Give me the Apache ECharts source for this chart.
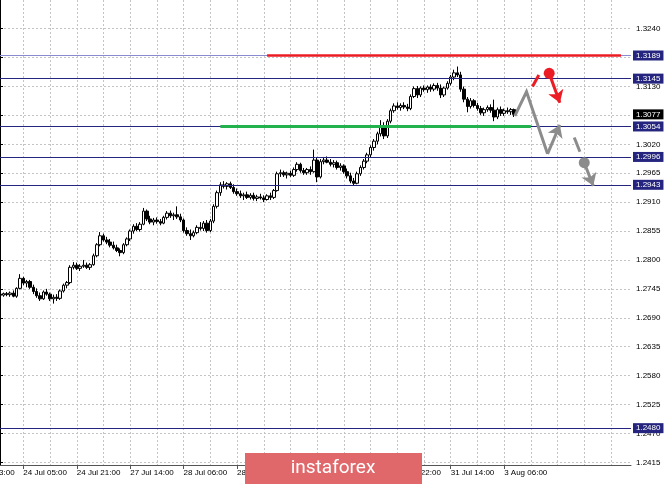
<!DOCTYPE html>
<html><head><meta charset="utf-8">
<script src="https://cdn.jsdelivr.net/npm/echarts@6/dist/echarts.min.js"></script>
<style>html,body{margin:0;padding:0;background:#fff}#c{width:665px;height:484px}</style>
</head><body><div id="c"></div>
<script>
// ---- data (hourly candles) ----
const opens = [
1.2735,1.2733,1.2736,1.2734,1.2737,1.2731,1.2746,1.2765,1.2756,1.2759,
1.2748,1.2740,1.2732,1.2726,1.2739,1.2735,1.2726,1.2729,1.2727,1.2741,
1.2752,1.2757,1.2786,1.2790,1.2784,1.2788,1.2790,1.2786,1.2791,1.2808,
1.2829,1.2846,1.2838,1.2834,1.2828,1.2823,1.2818,1.2814,1.2829,1.2840,
1.2855,1.2864,1.2858,1.2868,1.2893,1.2878,1.2872,1.2876,1.2873,1.2870,
1.2881,1.2889,1.2884,1.2886,1.2882,1.2876,1.2856,1.2850,1.2846,1.2852,
1.2862,1.2860,1.2870,1.2856,1.2874,1.2902,1.2928,1.2943,1.2940,1.2945,
1.2938,1.2930,1.2926,1.2922,1.2924,1.2919,1.2923,1.2917,1.2920,1.2918,
1.2915,1.2922,1.2919,1.2932,1.2964,1.2966,1.2962,1.2965,1.2961,1.2972,
1.2982,1.2970,1.2966,1.2972,1.2968,1.2990,1.2958,1.2987,1.2990,1.2986,
1.2982,1.2985,1.2976,1.2979,1.2968,1.2960,1.2950,1.2946,1.2964,1.2976,
1.2988,1.3000,1.3014,1.3026,1.3040,1.3055,1.3036,1.3064,1.3084,1.3093,
1.3090,1.3094,1.3091,1.3088,1.3111,1.3126,1.3114,1.3127,1.3124,1.3129,
1.3125,1.3132,1.3127,1.3114,1.3127,1.3136,1.3148,1.3156,1.3152,1.3125,
1.3106,1.3092,1.3103,1.3094,1.3088,1.3080,1.3086,1.3090,1.3085,1.3072,
1.3086,1.3079,1.3084,1.3082,1.3086];
const highs = [
1.2740,1.2738,1.2739,1.2740,1.2742,1.2748,1.2773,1.2768,1.2762,1.2762,
1.2753,1.2746,1.2738,1.2742,1.2745,1.2738,1.2734,1.2735,1.2744,1.2755,
1.2760,1.2790,1.2796,1.2795,1.2792,1.2800,1.2795,1.2794,1.2812,1.2832,
1.2853,1.2850,1.2844,1.2840,1.2835,1.2829,1.2822,1.2832,1.2843,1.2858,
1.2868,1.2870,1.2872,1.2899,1.2896,1.2884,1.2880,1.2881,1.2878,1.2884,
1.2893,1.2894,1.2890,1.2902,1.2888,1.2879,1.2862,1.2858,1.2856,1.2866,
1.2872,1.2874,1.2876,1.2878,1.2906,1.2932,1.2948,1.2950,1.2948,1.2949,
1.2944,1.2936,1.2932,1.2928,1.2930,1.2927,1.2928,1.2924,1.2926,1.2923,
1.2925,1.2928,1.2935,1.2968,1.2972,1.2970,1.2968,1.2970,1.2976,1.2986,
1.2985,1.2975,1.2975,1.2978,1.3010,1.2994,1.2992,1.2996,1.2997,1.2992,
1.2990,1.2989,1.2984,1.2982,1.2974,1.2966,1.2956,1.2968,1.2980,1.2992,
1.3004,1.3018,1.3030,1.3044,1.3066,1.3062,1.3068,1.3088,1.3098,1.3100,
1.3098,1.3100,1.3097,1.3115,1.3130,1.3131,1.3130,1.3132,1.3132,1.3134,
1.3136,1.3137,1.3134,1.3130,1.3140,1.3152,1.3162,1.3168,1.3158,1.3130,
1.3110,1.3108,1.3106,1.3099,1.3093,1.3090,1.3094,1.3096,1.3105,1.3090,
1.3092,1.3088,1.3090,1.3089,1.3088];
const lows = [
1.2728,1.2730,1.2731,1.2730,1.2729,1.2728,1.2744,1.2752,1.2748,1.2745,
1.2735,1.2728,1.2722,1.2724,1.2732,1.2722,1.2717,1.2722,1.2724,1.2738,
1.2746,1.2754,1.2782,1.2781,1.2779,1.2785,1.2783,1.2781,1.2789,1.2805,
1.2826,1.2835,1.2830,1.2824,1.2820,1.2815,1.2807,1.2811,1.2826,1.2836,
1.2850,1.2855,1.2854,1.2866,1.2874,1.2868,1.2866,1.2869,1.2866,1.2868,
1.2877,1.2880,1.2876,1.2878,1.2872,1.2852,1.2846,1.2838,1.2843,1.2849,
1.2856,1.2855,1.2852,1.2853,1.2870,1.2898,1.2922,1.2936,1.2934,1.2935,
1.2926,1.2922,1.2918,1.2914,1.2916,1.2915,1.2913,1.2912,1.2915,1.2910,
1.2913,1.2914,1.2916,1.2930,1.2958,1.2958,1.2955,1.2958,1.2958,1.2968,
1.2966,1.2962,1.2962,1.2962,1.2966,1.2948,1.2955,1.2982,1.2984,1.2978,
1.2976,1.2972,1.2970,1.2964,1.2955,1.2946,1.2942,1.2944,1.2960,1.2972,
1.2984,1.2995,1.3008,1.3020,1.3035,1.3030,1.3032,1.3060,1.3080,1.3086,
1.3084,1.3087,1.3083,1.3085,1.3108,1.3108,1.3110,1.3120,1.3118,1.3120,
1.3121,1.3122,1.3108,1.3110,1.3124,1.3132,1.3142,1.3148,1.3120,1.3100,
1.3081,1.3088,1.3090,1.3084,1.3076,1.3074,1.3082,1.3080,1.3064,1.3068,
1.3074,1.3074,1.3078,1.3076,1.3072];
const closes = [
1.2733,1.2736,1.2734,1.2737,1.2731,1.2746,1.2765,1.2756,1.2759,1.2748,
1.2740,1.2732,1.2726,1.2739,1.2735,1.2726,1.2729,1.2727,1.2741,1.2752,
1.2757,1.2786,1.2790,1.2784,1.2788,1.2790,1.2786,1.2791,1.2808,1.2829,
1.2846,1.2838,1.2834,1.2828,1.2823,1.2818,1.2814,1.2829,1.2840,1.2855,
1.2864,1.2858,1.2868,1.2893,1.2878,1.2872,1.2876,1.2873,1.2870,1.2881,
1.2889,1.2884,1.2886,1.2882,1.2876,1.2856,1.2850,1.2846,1.2852,1.2862,
1.2860,1.2870,1.2856,1.2874,1.2902,1.2928,1.2943,1.2940,1.2945,1.2938,
1.2930,1.2926,1.2922,1.2924,1.2919,1.2923,1.2917,1.2920,1.2918,1.2915,
1.2922,1.2919,1.2932,1.2964,1.2966,1.2962,1.2965,1.2961,1.2972,1.2982,
1.2970,1.2966,1.2972,1.2968,1.2990,1.2958,1.2987,1.2990,1.2986,1.2982,
1.2985,1.2976,1.2979,1.2968,1.2960,1.2950,1.2946,1.2964,1.2976,1.2988,
1.3000,1.3014,1.3026,1.3040,1.3055,1.3036,1.3064,1.3084,1.3093,1.3090,
1.3094,1.3091,1.3088,1.3111,1.3126,1.3114,1.3127,1.3124,1.3129,1.3125,
1.3132,1.3127,1.3114,1.3127,1.3136,1.3148,1.3156,1.3152,1.3125,1.3106,
1.3092,1.3103,1.3094,1.3088,1.3080,1.3086,1.3090,1.3085,1.3072,1.3086,
1.3079,1.3084,1.3082,1.3086,1.3077];

const tickLabels = ['24 Jul 05:00','24 Jul 21:00','27 Jul 14:00','28 Jul 06:00','28 Jul 22:00',
  '29 Jul 14:00','30 Jul 06:00','30 Jul 22:00','31 Jul 14:00','3 Aug 06:00'];
const yTickLabels = ['1.2415','1.2470','1.2525','1.2580','1.2635','1.2690','1.2745','1.2800',
  '1.2855','1.2910','1.2965','1.3020','1.3075','1.3130','1.3185','1.3240'];
const firstTickBar = 7, barsPerTick = 16, barsPerGrid = 8, futureBars = 35;

const navyLevels = [1.3145, 1.3054, 1.2996, 1.2943, 1.2480];
const topLevel = 1.3189;
const currentPrice = 1.3077;
const redSegment = [[80, 1.3189], [186, 1.3189]];
const greenSegment = [[66, 1.3054], [159, 1.3054]];

// forecast sketch (bar index, price)
const grayZigzag = [[154.2, 1.3074], [157.7, 1.3120], [164.0, 1.3002]];
const grayUpArrow = [[164.0, 1.3002], [167.7, 1.3057]];
const redDash = [[159.5, 1.3130], [161.4, 1.3152]];
const redDot = [164.5, 1.3155];
const redArrow = [[164.5, 1.3155], [167.7, 1.3099]];
const grayDash = [[172.0, 1.3033], [173.7, 1.3006]];
const grayDot = [175.0, 1.2985];
const grayArrow = [[175.0, 1.2985], [177.7, 1.2941]];

const yLow = 1.24099, yHigh = 1.32946;

// ---- build ----
const N = opens.length + futureBars;
const cats = Array.from({length: N}, (_, i) => String(i));
const tickIdx = i => (i - firstTickBar) / barsPerTick;
const isTick = i => i >= firstTickBar && (i - firstTickBar) % barsPerTick === 0 && tickIdx(i) < tickLabels.length;
const isGrid = i => i >= firstTickBar && (i - firstTickBar) % barsPerGrid === 0;
const candles = opens.map((o, i) => [o, closes[i], lows[i], highs[i]]);
const yTicks = yTickLabels.map(Number);

const NAVY = '#25257f', FONT = 'Liberation Sans';
const boxLabel = (val, bg) => ({
  show: true, position: 'end', distance: 2, formatter: () => val.toFixed(4),
  backgroundColor: bg, color: '#fff', fontSize: 8, fontFamily: FONT,
  lineHeight: 9, padding: [1, 3, 0, 3]
});
const markData = [];
markData.push({yAxis: topLevel, lineStyle: {color: '#8a8ad0', width: 1, type: 'solid'}, label: boxLabel(topLevel, NAVY)});
navyLevels.forEach(v => markData.push({yAxis: v, lineStyle: {color: NAVY, width: 1, type: 'solid'}, label: boxLabel(v, NAVY)}));
markData.push([{coord: [redSegment[0][0], redSegment[0][1]], lineStyle: {color: '#ec1c24', width: 2.5, type: 'solid'}, label: {show: false}},
               {coord: [redSegment[1][0], redSegment[1][1]]}]);
markData.push([{coord: [greenSegment[0][0], greenSegment[0][1]], lineStyle: {color: '#22b14c', width: 3, type: 'solid'}, label: {show: false}},
               {coord: [greenSegment[1][0], greenSegment[1][1]]}]);
markData.push({yAxis: currentPrice, lineStyle: {color: 'rgba(0,0,0,0)', width: 1, type: 'solid'}, label: boxLabel(currentPrice, '#000')});

const GRAY = '#8c8c8c', RED = '#ec1c24';
const lineSeries = (coords, color, arrow, poly) => ({
  type: 'lines', coordinateSystem: 'cartesian2d', xAxisIndex: 1, yAxisIndex: 0,
  polyline: !!poly, silent: true, animation: false, z: 5,
  symbol: arrow ? ['none', 'arrow'] : ['none', 'none'], symbolSize: 12,
  lineStyle: {color: color, width: 3, opacity: 1, curveness: 0},
  data: [{coords: coords}]
});

const chart = echarts.init(document.getElementById('c'), null, {renderer: 'canvas'});
chart.setOption({
  animation: false,
  backgroundColor: '#fff',
  grid: {left: 0, right: 34, top: 0, bottom: 19, containLabel: false, outerBoundsMode: 'none'},
  xAxis: [{
    type: 'category', data: cats, boundaryGap: false,
    axisLine: {show: true, lineStyle: {color: '#555', width: 1}},
    axisTick: {show: true, interval: (i) => isTick(i), length: 4, lineStyle: {color: '#555'}},
    axisLabel: {show: true, interval: (i) => isTick(i), formatter: (v, i) => isTick(i) ? tickLabels[tickIdx(i)] : '',
      align: 'left', margin: 4, fontSize: 8, fontFamily: FONT, color: '#000'},
    splitLine: {show: true, interval: (i) => isGrid(i), lineStyle: {type: [2, 2], color: '#c4c4c4', width: 1}}
  }, {
    type: 'value', min: 0, max: N - 1, show: false, splitLine: {show: false}
  }],
  yAxis: {
    type: 'value', position: 'right', min: yLow, max: yHigh, scale: true,
    axisLine: {show: true, lineStyle: {color: '#000', width: 1}},
    axisTick: {show: true, length: 3, lineStyle: {color: '#000'}, customValues: yTicks},
    axisLabel: {margin: 5, fontSize: 8, fontFamily: FONT, color: '#000', customValues: yTicks,
      formatter: v => v.toFixed(4)},
    splitLine: {show: true, lineStyle: {type: [2, 2], color: '#c4c4c4', width: 1}}
  },
  series: [{
    type: 'candlestick', data: candles, barWidth: 3,
    itemStyle: {color: '#fff', color0: '#000', borderColor: '#000', borderColor0: '#000', borderWidth: 1},
    markLine: {silent: true, animation: false, precision: 6, symbol: ['none', 'none'], data: markData}
  },
  lineSeries(grayZigzag, GRAY, false, true),
  lineSeries(grayUpArrow, GRAY, true),
  lineSeries(redDash, RED, false),
  lineSeries(redArrow, RED, true),
  lineSeries(grayDash, GRAY, false),
  lineSeries(grayArrow, GRAY, true),
  {type: 'scatter', xAxisIndex: 1, yAxisIndex: 0, silent: true, z: 6, symbolSize: 11,
   data: [redDot], itemStyle: {color: RED, opacity: 1}},
  {type: 'scatter', xAxisIndex: 1, yAxisIndex: 0, silent: true, z: 6, symbolSize: 11,
   data: [grayDot], itemStyle: {color: GRAY, opacity: 1}}
  ],
  graphic: [
    {type: 'text', silent: true, z: 50, style: {text: '23 Jul 13:00', x: -29, y: 469, align: 'left', verticalAlign: 'top', fill: '#000', font: '8px "Liberation Sans"'}},
    {type: 'rect', silent: true, z: 100, shape: {x: 245, y: 453, width: 177, height: 31}, style: {fill: '#e0676a'}},
    {type: 'text', silent: true, z: 101, style: {text: 'instaforex', x: 333, y: 468, align: 'center', verticalAlign: 'middle', fill: '#fff', font: '19px Roboto'}}
  ]
});
</script>
</body></html>
